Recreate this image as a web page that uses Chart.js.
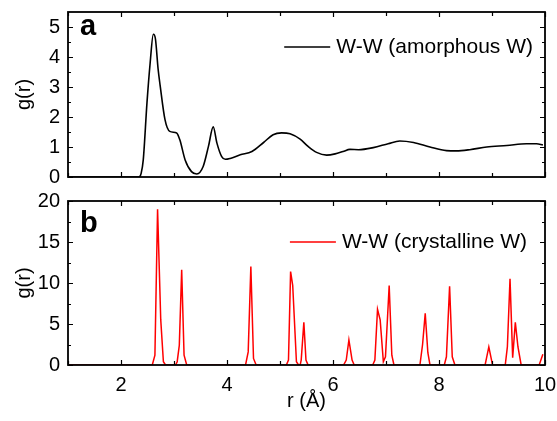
<!DOCTYPE html>
<html>
<head>
<meta charset="utf-8">
<script src="https://cdn.jsdelivr.net/npm/chart.js@4.4.1/dist/chart.umd.min.js"></script>
<style>
  html, body { margin: 0; padding: 0; background: #fff; }
  #wrap { position: relative; width: 557px; height: 421px; }
  #wrap canvas { position: absolute; left: 0; }
  #panelA { top: 0; }
  #panelB { top: 190px; }
</style>
</head>
<body>
<div id="wrap">
  <canvas id="panelA" width="557" height="190"></canvas>
  <canvas id="panelB" width="557" height="231"></canvas>
</div>
<script>
// panel a: amorphous W
const rAmorph = [1.0, 2.0, 2.34, 2.38, 2.42, 2.49, 2.55, 2.61, 2.65, 2.70, 2.74, 2.83, 2.92, 3.05, 3.11,
  3.21, 3.33, 3.43, 3.55, 3.65, 3.74, 3.81, 3.90, 3.97, 4.06, 4.25, 4.47, 4.69, 4.87, 5.03, 5.19,
  5.38, 5.53, 5.69, 5.88, 6.04, 6.19, 6.32, 6.48, 6.76, 7.04, 7.26, 7.52, 7.83, 8.14, 8.33, 8.58,
  8.90, 9.28, 9.65, 9.84, 9.96];
const gAmorph = [0, 0, 0, 0.12, 0.57, 2.47, 3.8, 4.76, 4.6, 3.6, 3.03, 1.91, 1.52, 1.47, 1.24,
  0.57, 0.18, 0.10, 0.35, 1.02, 1.67, 1.13, 0.68, 0.59, 0.62, 0.74, 0.85, 1.15, 1.41, 1.47, 1.44,
  1.26, 1.02, 0.82, 0.73, 0.77, 0.85, 0.92, 0.91, 0.98, 1.11, 1.20, 1.15, 1.00, 0.88, 0.87, 0.91,
  1.00, 1.05, 1.11, 1.11, 1.07];

// panel b: crystalline W
const rCryst = [1.0, 2.59, 2.64, 2.69, 2.75, 2.80, 2.84, 3.03, 3.06, 3.10, 3.145, 3.19, 3.24,
  4.35, 4.40, 4.45, 4.50, 4.55, 5.12, 5.16, 5.20, 5.24, 5.31, 5.35, 5.38, 5.40, 5.45, 5.49, 5.53,
  6.20, 6.25, 6.30, 6.36, 6.40, 6.75, 6.79, 6.84, 6.89, 6.95, 6.99, 7.06, 7.11, 7.15,
  7.64, 7.69, 7.74, 7.79, 7.83, 8.10, 8.14, 8.20, 8.25, 8.30, 8.87, 8.94, 9.01,
  9.25, 9.29, 9.34, 9.39, 9.44, 9.49, 9.55, 9.89, 9.96];
const gCryst = [0, 0, 1.2, 19.0, 5.5, 0.4, 0, 0, 0.4, 2.4, 11.6, 1.2, 0,
  0, 1.6, 12.0, 0.8, 0, 0, 0.6, 11.4, 9.7, 0.4, 0, 0, 0.6, 5.2, 0.6, 0,
  0, 0.6, 3.05, 0.6, 0, 0, 0.6, 6.8, 5.5, 0.4, 1.0, 9.7, 1.2, 0,
  0, 2.5, 6.3, 1.5, 0, 0, 1.0, 9.6, 1.0, 0, 0, 2.2, 0,
  0, 2.2, 10.5, 0.9, 5.2, 2.2, 0, 0, 1.3];

const xTicks = [2, 4, 6, 8, 10];
const xMinor = [1, 3, 5, 7, 9];
const yTicksA = [0, 1, 2, 3, 4, 5];
const yMinorA = [0.5, 1.5, 2.5, 3.5, 4.5];
const yTicksB = [0, 5, 10, 15, 20];
const yMinorB = [2.5, 7.5, 12.5, 17.5];

Chart.defaults.font.family = "'Liberation Sans', Arial, sans-serif";
Chart.defaults.color = '#000';

const toXY = (xs, ys) => xs.map((x, i) => ({x: x, y: ys[i]}));

// fixed axis sizes so both panels line up
const fixY = s => { s.width = 68; s.paddingTop = 0; s.paddingBottom = 0; };
const fixX = h => s => { s.height = h; s.paddingLeft = 0; s.paddingRight = 0; };

// box with inward ticks on all four sides, panel letter and legend
const framePlugin = {
  id: 'frame',
  afterDraw(chart, args, opts) {
    const ctx = chart.ctx;
    const a = chart.chartArea;
    const x = chart.scales.x, y = chart.scales.y;
    ctx.save();
    ctx.strokeStyle = '#000';
    ctx.lineWidth = 1.2;
    ctx.beginPath();
    const xt = (vals, len) => vals.forEach(v => {
      const p = Math.round(x.getPixelForValue(v)) + 0.5;
      ctx.moveTo(p, a.bottom); ctx.lineTo(p, a.bottom - len);
      ctx.moveTo(p, a.top); ctx.lineTo(p, a.top + len);
    });
    const yt = (vals, len) => vals.forEach(v => {
      const p = Math.round(y.getPixelForValue(v)) + 0.5;
      ctx.moveTo(a.left, p); ctx.lineTo(a.left + len, p);
      ctx.moveTo(a.right, p); ctx.lineTo(a.right - len, p);
    });
    xt(xTicks, 5); xt(xMinor, 4);
    yt(opts.yMajor, 5); yt(opts.yMinor, 3);
    ctx.stroke();
    ctx.lineWidth = 1.8;
    ctx.strokeRect(a.left, a.top, a.right - a.left, a.bottom - a.top);

    // panel letter
    ctx.fillStyle = '#000';
    ctx.font = "bold 29px 'Liberation Sans', Arial, sans-serif";
    ctx.textAlign = 'left';
    ctx.textBaseline = 'alphabetic';
    ctx.fillText(opts.letter, a.left + 12, a.top + opts.letterY);

    // legend
    ctx.font = "21px 'Liberation Sans', Arial, sans-serif";
    const ds = chart.data.datasets[0];
    const tx = a.right - opts.legRight;
    const ty = a.top + opts.legY;
    const w = ctx.measureText(ds.label).width;
    ctx.textAlign = 'right';
    ctx.fillText(ds.label, tx, ty);
    ctx.strokeStyle = ds.borderColor;
    ctx.lineWidth = 1.5;
    ctx.beginPath();
    ctx.moveTo(tx - w - 52, ty - 6);
    ctx.lineTo(tx - w - 6, ty - 6);
    ctx.stroke();
    ctx.restore();
  }
};

new Chart(document.getElementById('panelA'), {
  type: 'line',
  data: {
    datasets: [{
      label: 'W-W (amorphous W)',
      data: toXY(rAmorph, gAmorph),
      borderColor: '#000',
      borderWidth: 1.6,
      pointRadius: 0,
      cubicInterpolationMode: 'monotone'
    }]
  },
  options: {
    responsive: false,
    animation: false,
    layout: {padding: {top: 12, right: 12, left: 0, bottom: 0}},
    plugins: {
      legend: {display: false},
      tooltip: {enabled: false},
      frame: {letter: 'a', letterY: 23, legRight: 12, legY: 41, yMajor: yTicksA, yMinor: yMinorA}
    },
    scales: {
      x: {
        type: 'linear', min: 1, max: 10,
        grid: {display: false, drawTicks: false}, border: {display: false},
        ticks: {display: false},
        afterFit: fixX(13)
      },
      y: {
        min: 0, max: 5.5,
        grid: {display: false, drawTicks: false}, border: {display: false},
        afterBuildTicks: s => { s.ticks = yTicksA.map(v => ({value: v})); },
        ticks: {padding: 8, font: {size: 20}},
        title: {display: true, text: 'g(r)', font: {size: 20}, padding: {top: 12, bottom: 0}},
        afterFit: fixY
      }
    }
  },
  plugins: [framePlugin]
});

new Chart(document.getElementById('panelB'), {
  type: 'line',
  data: {
    datasets: [{
      label: 'W-W (crystalline W)',
      data: toXY(rCryst, gCryst),
      borderColor: '#ff0000',
      borderWidth: 1.5,
      pointRadius: 0,
      tension: 0
    }]
  },
  options: {
    responsive: false,
    animation: false,
    layout: {padding: {top: 11, right: 12, left: 0, bottom: 0}},
    plugins: {
      legend: {display: false},
      tooltip: {enabled: false},
      frame: {letter: 'b', letterY: 31, legRight: 18, legY: 47, yMajor: yTicksB, yMinor: yMinorB}
    },
    scales: {
      x: {
        type: 'linear', min: 1, max: 10,
        grid: {display: false, drawTicks: false}, border: {display: false},
        afterBuildTicks: s => { s.ticks = xTicks.map(v => ({value: v})); },
        ticks: {padding: 8, font: {size: 20}, maxRotation: 0},
        title: {display: true, text: 'r (Å)', font: {size: 20}, padding: {top: 0, bottom: 8}},
        afterFit: fixX(56)
      },
      y: {
        min: 0, max: 20,
        grid: {display: false, drawTicks: false}, border: {display: false},
        afterBuildTicks: s => { s.ticks = yTicksB.map(v => ({value: v})); },
        ticks: {padding: 8, font: {size: 20}},
        title: {display: true, text: 'g(r)', font: {size: 20}, padding: {top: 12, bottom: 0}},
        afterFit: fixY
      }
    }
  },
  plugins: [framePlugin]
});
</script>
</body>
</html>
